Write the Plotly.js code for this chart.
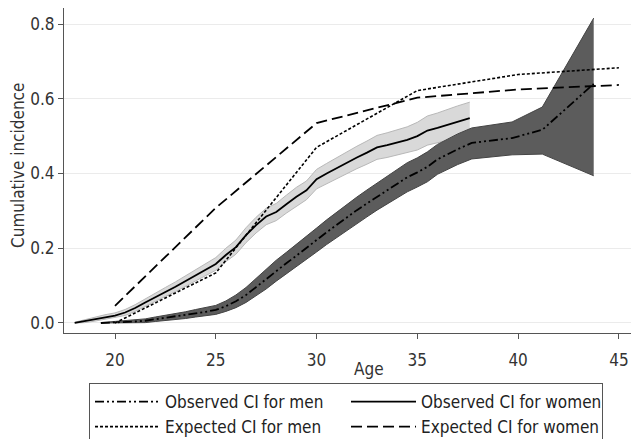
<!DOCTYPE html>
<html>
<head>
<meta charset="utf-8">
<script src="https://cdn.plot.ly/plotly-3.0.1.min.js"></script>
<style>html,body{margin:0;padding:0;background:#fff;}#chart{width:631px;height:439px;}</style>
</head>
<body>
<div id="chart"></div>
<script>
// Observed cumulative incidence, women
var womenAge = [18.0,18.5,19.0,19.5,20.0,20.5,21.0,21.5,22.0,22.5,23.0,23.5,24.0,24.5,25.0,25.5,26.0,26.5,27.0,27.5,28.0,28.5,29.0,29.5,30.0,30.5,31.0,31.5,32.0,32.5,33.0,33.5,34.0,34.5,35.0,35.5,36.0,36.5,37.0,37.6];
var womenObs = [0.000,0.005,0.010,0.016,0.020,0.028,0.040,0.055,0.070,0.083,0.097,0.112,0.128,0.143,0.158,0.182,0.203,0.235,0.262,0.285,0.297,0.318,0.338,0.355,0.385,0.400,0.415,0.428,0.443,0.456,0.470,0.476,0.483,0.490,0.500,0.515,0.522,0.530,0.538,0.548];
var womenLo  = [0.000,0.001,0.005,0.010,0.013,0.020,0.031,0.045,0.059,0.071,0.084,0.098,0.113,0.127,0.141,0.164,0.184,0.215,0.241,0.263,0.274,0.294,0.313,0.330,0.359,0.373,0.387,0.399,0.413,0.425,0.438,0.443,0.449,0.455,0.463,0.476,0.482,0.488,0.495,0.503];
var womenHi  = [0.002,0.009,0.015,0.022,0.027,0.036,0.049,0.065,0.081,0.095,0.110,0.126,0.143,0.159,0.175,0.200,0.222,0.255,0.283,0.307,0.320,0.342,0.363,0.380,0.411,0.427,0.443,0.457,0.473,0.487,0.502,0.509,0.517,0.525,0.537,0.554,0.562,0.572,0.581,0.591];

// Observed cumulative incidence, men
var menAge = [19.3,20.0,20.5,21.0,21.5,22.0,22.5,23.0,23.5,24.0,24.5,25.0,25.5,26.0,26.5,27.0,27.5,28.0,28.5,29.0,29.5,30.0,30.5,31.0,31.5,32.0,32.5,33.0,33.5,34.0,34.5,35.0,35.5,36.0,36.5,37.0,37.7,39.7,41.2,43.75];
var menObs = [0.000,0.001,0.002,0.004,0.006,0.010,0.013,0.017,0.021,0.026,0.030,0.035,0.045,0.058,0.075,0.096,0.118,0.140,0.160,0.180,0.200,0.222,0.243,0.263,0.283,0.302,0.320,0.338,0.355,0.373,0.390,0.403,0.418,0.438,0.452,0.465,0.482,0.495,0.517,0.640];
var menLo  = [0.000,0.000,0.000,0.000,0.001,0.004,0.006,0.009,0.012,0.016,0.019,0.023,0.031,0.041,0.055,0.073,0.091,0.112,0.131,0.150,0.169,0.190,0.210,0.229,0.248,0.267,0.284,0.302,0.318,0.335,0.351,0.364,0.378,0.398,0.411,0.424,0.439,0.450,0.452,0.394];
var menHi  = [0.001,0.004,0.006,0.008,0.011,0.016,0.020,0.025,0.030,0.036,0.041,0.047,0.059,0.075,0.095,0.119,0.145,0.168,0.189,0.210,0.231,0.254,0.276,0.297,0.318,0.337,0.356,0.374,0.392,0.411,0.429,0.442,0.458,0.478,0.493,0.506,0.522,0.538,0.578,0.816];

// Expected cumulative incidence
var expAge   = [20, 25, 30, 35, 40, 45];
var expMen   = [0.000, 0.134, 0.470, 0.622, 0.665, 0.683];
var expWomen = [0.046, 0.308, 0.535, 0.603, 0.625, 0.637];

var xTicks = [20, 25, 30, 35, 40, 45];
var yTicks = [0, 0.2, 0.4, 0.6, 0.8];
var legendNames = ['Observed CI for men','Observed CI for women','Expected CI for men','Expected CI for women'];
var xTitle = 'Age';
var yTitle = 'Cumulative incidence';

var FONT = '"DejaVu Sans Condensed", "Liberation Sans Narrow", sans-serif';
var FS = 17;

var traces = [
  {x: womenAge, y: womenLo, mode:'lines', line:{color:'#b8b8b8', width:1}, showlegend:false, hoverinfo:'skip'},
  {x: womenAge, y: womenHi, mode:'lines', fill:'tonexty', fillcolor:'#d9d9d9', line:{color:'#b8b8b8', width:1}, showlegend:false, hoverinfo:'skip'},
  {x: menAge, y: menLo, mode:'lines', line:{color:'#444444', width:1}, showlegend:false, hoverinfo:'skip'},
  {x: menAge, y: menHi, mode:'lines', fill:'tonexty', fillcolor:'#5c5c5c', line:{color:'#444444', width:1}, showlegend:false, hoverinfo:'skip'},
  {x: menAge, y: menObs, mode:'lines', name: legendNames[0], line:{color:'#000', width:1.8, dash:'9px,3px,2px,3px,2px,3px'}},
  {x: womenAge, y: womenObs, mode:'lines', name: legendNames[1], line:{color:'#000', width:1.8}},
  {x: expAge, y: expMen, mode:'lines', name: legendNames[2], line:{color:'#000', width:1.6, dash:'3px,2px'}},
  {x: expAge, y: expWomen, mode:'lines', name: legendNames[3], line:{color:'#000', width:1.8, dash:'11px,5px'}}
];

var layout = {
  width: 631, height: 439,
  margin: {l:64, r:0, t:8, b:106},
  paper_bgcolor:'#fff', plot_bgcolor:'#fff',
  font: {family: FONT, size: FS, color:'#333'},
  showlegend: true,
  xaxis: {
    range: [17.47, 45.6], tickvals: xTicks, ticktext: xTicks.map(String),
    showline: true, linecolor:'#555', linewidth:1, ticks:'outside', ticklen:5, tickcolor:'#555',
    showgrid:false, zeroline:false, ticklabelstandoff: 7,
    tickfont:{family: FONT, size:FS, color:'#333'}
  },
  yaxis: {
    range: [-0.0268, 0.843], tickvals: yTicks, ticktext: yTicks.map(function(v){return v.toFixed(1);}),
    showline: true, linecolor:'#555', linewidth:1, ticks:'outside', ticklen:5, tickcolor:'#555',
    showgrid:true, gridcolor:'#ebebeb', gridwidth:1, zeroline:false,
    tickfont:{family: FONT, size:FS, color:'#333'}
  },
  annotations: [
    {text: xTitle, xref:'paper', yref:'paper', x:(369-64)/567, y:(333-369)/325,
     xanchor:'center', yanchor:'middle', showarrow:false, font:{family: FONT, size:FS, color:'#333'}},
    {text: yTitle, xref:'paper', yref:'paper', x:(18-64)/567, y:(333-166)/325, textangle:-90,
     xanchor:'center', yanchor:'middle', showarrow:false, font:{family: FONT, size:FS, color:'#333'}}
  ],
  legend: {
    orientation:'h', traceorder:'normal', xref:'container', yref:'container',
    x: 89/631, y: 1 - 383/439, xanchor:'left', yanchor:'top',
    bordercolor:'#555', borderwidth:1, bgcolor:'#fff',
    itemwidth: 65, entrywidth: 176, entrywidthmode:'pixels',
    font:{family: FONT, size:FS, color:'#222'}
  }
};

Plotly.newPlot('chart', traces, layout, {staticPlot:true, displayModeBar:false});
</script>
</body>
</html>
